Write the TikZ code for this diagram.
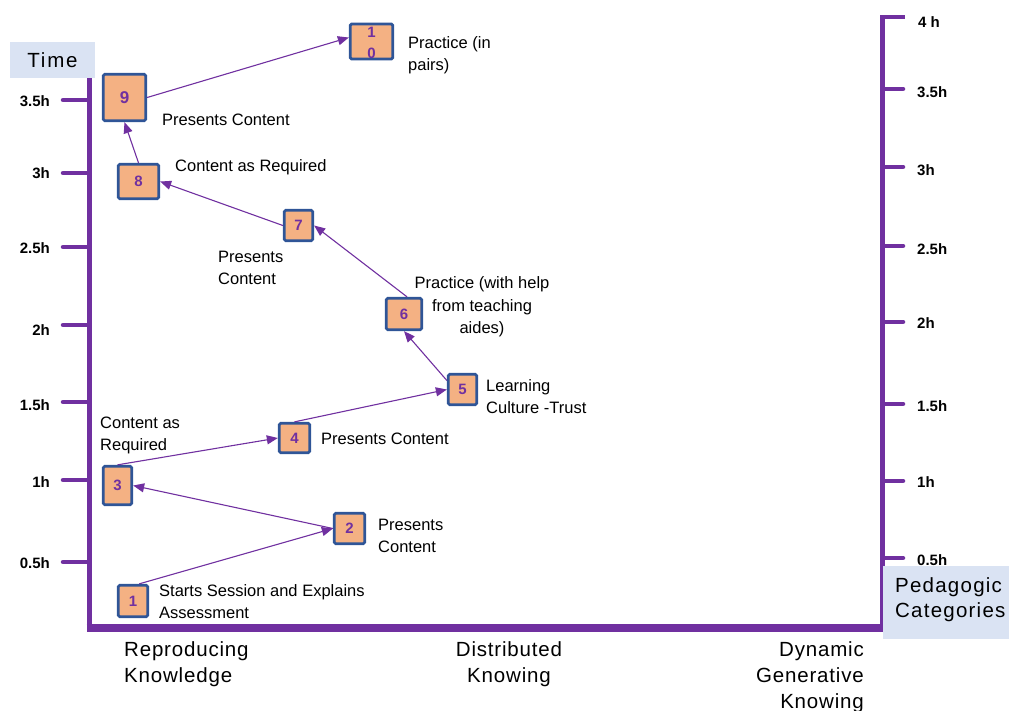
\documentclass[tikz,border=0pt]{standalone}
\usepackage{fontspec}
\setmainfont{Liberation Sans}
\usetikzlibrary{arrows.meta}
\definecolor{axispurple}{HTML}{7030A0}
\definecolor{boxfill}{HTML}{F4B183}
\definecolor{boxline}{HTML}{2F5597}
\definecolor{tagfill}{HTML}{DAE3F3}
\begin{document}
\begin{tikzpicture}[x=1pt,y=-1pt,
  stepbox/.style={draw=boxline, line width=2.8pt, fill=boxfill, rounded corners=1.5pt,
    inner sep=0pt, text=axispurple, font=\fontsize{15}{17}\selectfont\bfseries},
  flow/.style={draw=axispurple, line width=1.1pt, -{Triangle[length=11pt,width=9pt]}},
  lbl/.style={font=\fontsize{16.5}{22}\selectfont, align=left, inner sep=0pt, anchor=base west},
  axislbl/.style={font=\fontsize{20.5}{26}\selectfont\addfontfeature{LetterSpace=4}, inner sep=0pt},
  tick/.style={draw=axispurple, line width=4.5pt, line cap=round},
  ticklbl/.style={font=\fontsize{15}{17}\selectfont\bfseries, inner sep=0pt},
  tagbox/.style={fill=tagfill, inner sep=0pt}]
\useasboundingbox (0,0) rectangle (1009,711);

% axes
\draw[draw=axispurple, line width=5pt] (89,78) -- (89,628);
\draw[draw=axispurple, line width=8pt] (86.5,628) -- (885,628);
\draw[draw=axispurple, line width=5pt] (882,632) -- (882,17);

% left ticks and labels
\foreach \y/\t/\ly in {100/3.5h/101, 173/3h/173, 247/2.5h/248, 325/2h/330, 402/1.5h/405, 480/1h/482, 562/0.5h/563}{
  \draw[tick] (63,\y) -- (88,\y);
  \node[ticklbl, anchor=base east] at (50,\ly+5.5) {\t};
}
% right ticks and labels
\draw[tick, line cap=butt] (880,17) -- (905,17);
\node[ticklbl, anchor=base west] at (918,27.5) {4 h};
\foreach \y/\t/\ly in {89/3.5h/92, 167/3h/170, 246/2.5h/249, 322/2h/323, 404/1.5h/406, 481/1h/482, 558/0.5h/560}{
  \draw[tick] (884,\y) -- (903,\y);
  \node[ticklbl, anchor=base west] at (917,\ly+5.5) {\t};
}

% captions of the axes (the base of a multi-line label is its last line)
\node[tagbox, minimum width=85pt, minimum height=36pt] (time) at (52.5,60) {};
\node[axislbl, font=\fontsize{20.5}{26}\selectfont\addfontfeature{LetterSpace=9}] at (time.center) {Time};
\node[tagbox, minimum width=126pt, minimum height=73pt, anchor=north west] (ped) at (883,566) {};
\node[axislbl, font=\fontsize{20.5}{25}\selectfont\addfontfeature{LetterSpace=6}, align=left, anchor=base west] at (895,617) {Pedagogic\\Categories};

\node[axislbl, align=left, anchor=base west] at (124,682) {Reproducing\\Knowledge};
\node[axislbl, align=center, anchor=base] at (509,682) {Distributed\\Knowing};
\node[axislbl, align=right, anchor=base east] at (864,708) {Dynamic\\Generative\\Knowing};

% steps of the session
\node[stepbox, minimum width=29.5pt, minimum height=31.5pt] (n1) at (133,601) {1};
\node[stepbox, minimum width=30.5pt, minimum height=30.5pt] (n2) at (349.5,528.5) {2};
\node[stepbox, minimum width=28.5pt, minimum height=38.5pt] (n3) at (117.5,485.5) {3};
\node[stepbox, minimum width=30.5pt, minimum height=29.5pt] (n4) at (294.5,438) {4};
\node[stepbox, minimum width=28.5pt, minimum height=30.5pt] (n5) at (462.5,389.5) {5};
\node[stepbox, minimum width=35.5pt, minimum height=31.5pt] (n6) at (404,314) {6};
\node[stepbox, minimum width=28.5pt, minimum height=30.5pt] (n7) at (298.5,225.5) {7};
\node[stepbox, minimum width=40.5pt, minimum height=34.5pt] (n8) at (138.5,181.5) {8};
\node[stepbox, minimum width=42.5pt, minimum height=46.5pt, font=\fontsize{17}{19}\selectfont\bfseries] (n9) at (124.5,97.5) {9};
\node[stepbox, minimum width=42.5pt, minimum height=30.5pt, align=center, font=\fontsize{15}{21}\selectfont\bfseries] (n10) at (371.5,41.5) {\rule{0pt}{14pt}1\\0};

% flow between the steps
\draw[flow] (n1.70) -- (n2.west);
\draw[flow] (n2.west) -- (n3.east);
\draw[flow] (n3.north) -- (n4.west);
\draw[flow] (n4.north) -- (n5.west);
\draw[flow] (n5.150) -- (n6.south);
\draw[flow] (n6.80) -- (n7.east);
\draw[flow] (n7.west) -- (n8.east);
\draw[flow] (n8.north) -- (n9.south);
\draw[flow] (n9.east) -- (n10.170);

% descriptions of the steps
\node[lbl] at (159,618) {Starts Session and Explains\\Assessment};
\node[lbl] at (378,552) {Presents\\Content};
\node[lbl] at (100,450) {Content as\\Required};
\node[lbl] at (321,444) {Presents Content};
\node[lbl] at (486,413) {Learning\\Culture -Trust};
\node[lbl, align=center, anchor=base] at (482,333) {Practice (with help\\from teaching\\aides)};
\node[lbl] at (218,285) {Presents\\Content};
\node[lbl] at (175,172) {Content as Required};
\node[lbl] at (162,126) {Presents Content};
\node[lbl] at (408,71) {Practice (in\\pairs)};
\end{tikzpicture}
\end{document}
